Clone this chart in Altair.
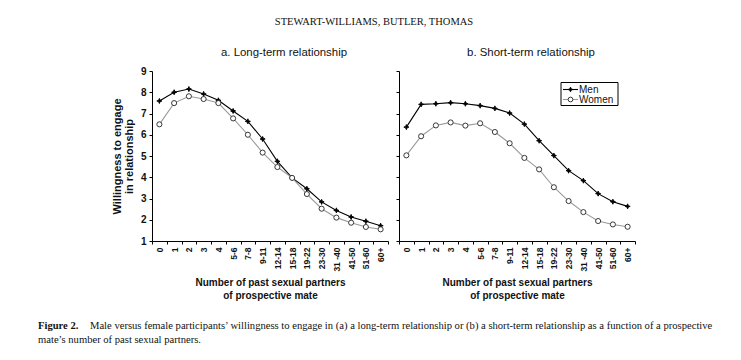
import altair as alt
import pandas as pd

categories = ["0", "1", "2", "3", "4", "5-6", "7-8", "9-11", "12-14", "15-18",
              "19-22", "23-30", "31 -40", "41-50", "51-60", "60+"]
series_names = ["Men", "Women"]

long_men = [7.59, 8.00, 8.15, 7.92, 7.62, 7.12, 6.63, 5.80, 4.75, 3.97, 3.46, 2.84, 2.44, 2.13, 1.93, 1.72]
long_women = [6.49, 7.49, 7.81, 7.68, 7.49, 6.77, 6.00, 5.16, 4.48, 3.97, 3.21, 2.52, 2.10, 1.86, 1.66, 1.55]
short_men = [6.36, 7.43, 7.46, 7.51, 7.46, 7.37, 7.24, 7.02, 6.50, 5.72, 5.02, 4.31, 3.84, 3.23, 2.85, 2.63]
short_women = [5.03, 5.93, 6.44, 6.58, 6.43, 6.54, 6.13, 5.60, 4.91, 4.37, 3.53, 2.88, 2.36, 1.94, 1.78, 1.67]

panel_titles = ["a. Long-term relationship", "b. Short-term relationship"]
y_title = ["Willingness to engage", "in relationship"]
x_title = ["Number of past sexual partners", "of prospective mate"]
header = ["STEWART-WILLIAMS, BUTLER, THOMAS"]
fig_label = ["Figure 2."]
caption1 = ["Male versus female participants\u2019 willingness to engage in (a) a long-term relationship or (b) a short-term relationship as a function of a prospective"]
caption2 = ["mate\u2019s number of past sexual partners."]

STAR = "M0,-1L0.28,-0.28L1,0L0.28,0.28L0,1L-0.28,0.28L-1,0L-0.28,-0.28Z"
SANS = "Liberation Sans"
SERIF = "Liberation Serif"
W, H = 236, 170


def panel(men, women, title, left):
    df = pd.DataFrame({
        "cat": categories * 2,
        "series": [series_names[0]] * len(men) + [series_names[1]] * len(women),
        "value": men + women,
    })
    x = alt.X("cat:N", sort=categories,
              scale=alt.Scale(type="band", paddingInner=0, paddingOuter=0),
              axis=alt.Axis(title=x_title, labelAngle=-90, tickBand="extent",
                            labelFontSize=8.5, labelPadding=3, titlePadding=6,
                            titleFontSize=10, titleLineHeight=13))
    if left:
        yaxis = alt.Axis(title=y_title, values=list(range(1, 10)), labelFontSize=10,
                         titleFontSize=11, titleLineHeight=12, titlePadding=6, labelPadding=3)
    else:
        yaxis = alt.Axis(title=None, values=list(range(1, 10)), labels=False)
    y = alt.Y("value:Q", scale=alt.Scale(domain=[1, 9], nice=False, zero=False), axis=yaxis)

    line = alt.Chart(df).mark_line(strokeWidth=1.1).encode(
        x=x, y=y,
        color=alt.Color("series:N", scale=alt.Scale(domain=series_names, range=["#000000", "#9a9a9a"]), legend=None),
    )
    pts = alt.Chart(df).mark_point(filled=True, size=26, strokeWidth=0.9, opacity=1).encode(
        x=x, y=y,
        shape=alt.Shape("series:N", scale=alt.Scale(domain=series_names, range=[STAR, "circle"]), legend=None),
        fill=alt.Fill("series:N", scale=alt.Scale(domain=series_names, range=["#000000", "#ffffff"]), legend=None),
        stroke=alt.Stroke("series:N", scale=alt.Scale(domain=series_names, range=["#000000", "#222222"]), legend=None),
    )
    layers = [line, pts]
    one = pd.DataFrame({"k": [0]})
    layers.append(alt.Chart(pd.DataFrame({"t": [title]})).mark_text(
        font=SANS, fontSize=11.4, align="center", baseline="middle", color="#111").encode(
        text="t:N", x=alt.value(132), y=alt.value(-18.5)))
    if left:
        layers.append(alt.Chart(pd.DataFrame({"t": header})).mark_text(
            font=SERIF, fontSize=10.5, align="center", baseline="middle", color="#111").encode(
            text="t:N", x=alt.value(222), y=alt.value(-49.5)))
        layers.append(alt.Chart(pd.DataFrame({"t": fig_label})).mark_text(
            font=SERIF, fontSize=10.6, fontWeight="bold", align="left", baseline="middle", color="#111").encode(
            text="t:N", x=alt.value(-114), y=alt.value(255)))
        layers.append(alt.Chart(pd.DataFrame({"t": caption1})).mark_text(
            font=SERIF, fontSize=10.6, align="left", baseline="middle", color="#111").encode(
            text="t:N", x=alt.value(-62), y=alt.value(255)))
        layers.append(alt.Chart(pd.DataFrame({"t": caption2})).mark_text(
            font=SERIF, fontSize=10.6, align="left", baseline="middle", color="#111").encode(
            text="t:N", x=alt.value(-114), y=alt.value(268.5)))
    else:
        # legend
        layers.append(alt.Chart(one).mark_rect(fill="white", stroke="black", strokeWidth=1).encode(
            x=alt.value(162), x2=alt.value(219), y=alt.value(11.5), y2=alt.value(34.5)))
        for i, (nm, col, shp, fl, st) in enumerate(zip(series_names, ["#000000", "#9a9a9a"], [STAR, "circle"],
                                                        ["#000000", "#ffffff"], ["#000000", "#222222"])):
            yy = 18.5 + 10 * i
            layers.append(alt.Chart(one).mark_rule(color=col, strokeWidth=1.1).encode(
                x=alt.value(164), x2=alt.value(179), y=alt.value(yy)))
            layers.append(alt.Chart(one).mark_point(shape=shp, filled=True, fill=fl, stroke=st,
                                                    strokeWidth=0.9, size=22, opacity=1).encode(
                x=alt.value(171.5), y=alt.value(yy)))
            layers.append(alt.Chart(pd.DataFrame({"t": [nm]})).mark_text(
                font=SANS, fontSize=10, align="left", baseline="middle", color="#111").encode(
                text="t:N", x=alt.value(180), y=alt.value(yy)))
    return alt.layer(*layers).properties(width=W, height=H)


left = panel(long_men, long_women, panel_titles[0], True)
right = panel(short_men, short_women, panel_titles[1], False)

chart = alt.hconcat(left, right, spacing=11, bounds="flush").properties(
    padding={"left": 30, "top": 8, "right": 5, "bottom": 5},
    background="white",
).configure_view(stroke=None).configure_axis(
    domainColor="black", tickColor="black", tickSize=3, grid=False,
    labelFont=SANS, labelFontWeight="bold", labelColor="#111",
    titleFont=SANS, titleFontWeight="bold", titleColor="#111",
    domainWidth=1, tickWidth=1,
)

chart.save("out.html", embed_options={"renderer": "svg", "actions": False})
